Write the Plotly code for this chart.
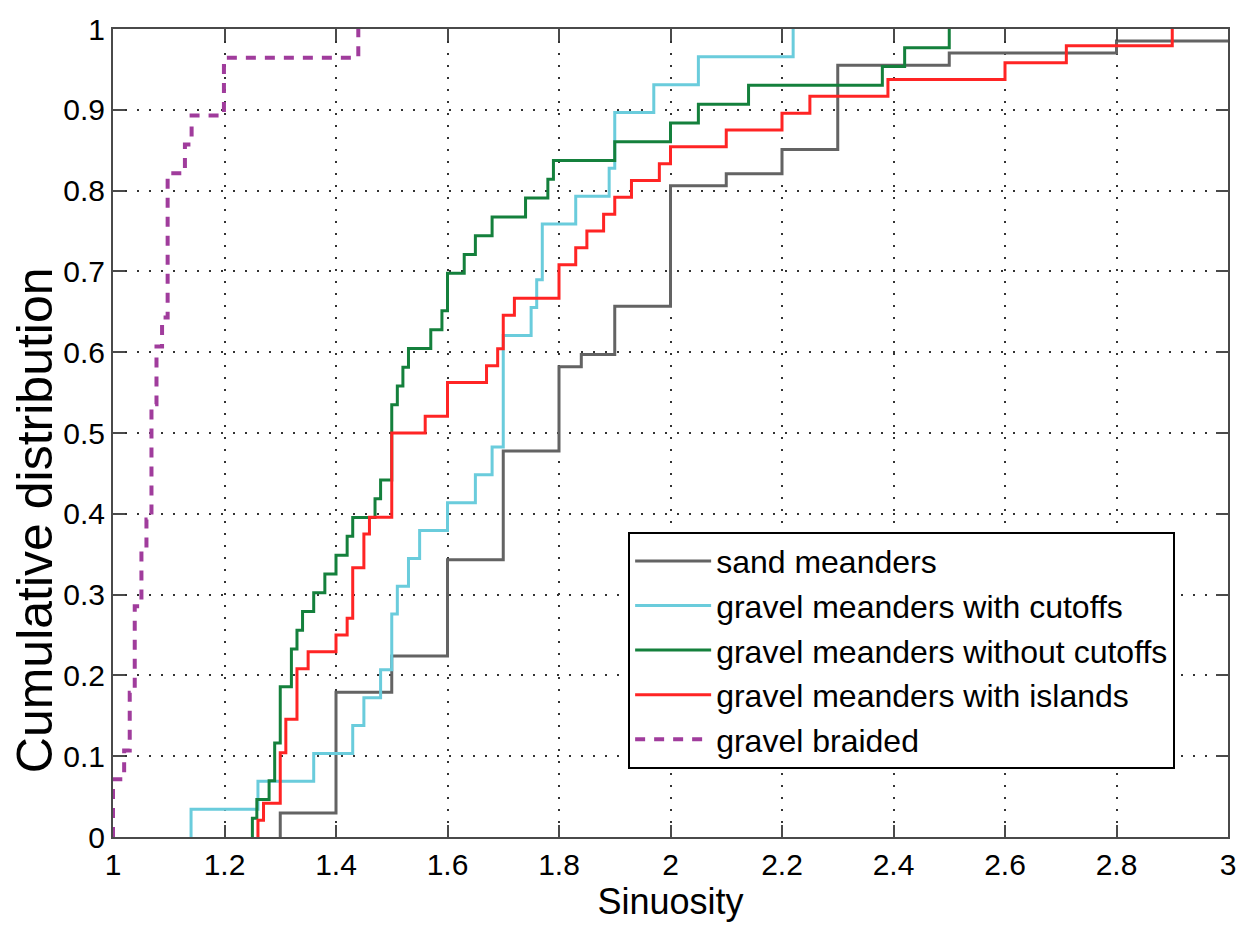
import plotly.graph_objects as go

# ---- data ----
sand_x = [1.3, 1.3, 1.4, 1.5, 1.6, 1.7, 1.8, 1.84, 1.9, 2.0, 2.1, 2.2, 2.3, 2.5, 2.8, 3.0]
sand_n = [0, 2, 12, 15, 23, 32, 39, 40, 44, 54, 55, 57, 64, 65, 66, 66]
sand_total = 67

cut_x = [1.14, 1.14, 1.26, 1.36, 1.43, 1.45, 1.48, 1.50, 1.51, 1.53, 1.55, 1.60, 1.65, 1.68,
         1.70, 1.75, 1.76, 1.77, 1.83, 1.89, 1.90, 1.97, 2.05, 2.22]
cut_n = [0, 1, 2, 3, 4, 5, 6, 8, 9, 10, 11, 12, 13, 14, 18, 19, 20, 22, 23, 24, 26, 27, 28, 29]
cut_total = 29

nocut_x = [1.25, 1.25, 1.258, 1.28, 1.29, 1.30, 1.32, 1.33, 1.34, 1.36, 1.38, 1.40, 1.42, 1.43,
           1.47, 1.48, 1.50, 1.51, 1.52, 1.53, 1.57, 1.59, 1.60, 1.63, 1.65, 1.68, 1.74, 1.78,
           1.79, 1.90, 2.0, 2.05, 2.14, 2.38, 2.42, 2.50]
nocut_n = [0, 1, 2, 3, 5, 8, 10, 11, 12, 13, 14, 15, 16, 17, 18, 19, 23, 24, 25, 26, 27, 28,
           30, 31, 32, 33, 34, 35, 36, 37, 38, 39, 40, 41, 42, 43]
nocut_total = 43

isl_x = [1.26, 1.26, 1.27, 1.30, 1.31, 1.33, 1.35, 1.40, 1.42, 1.43, 1.45, 1.46, 1.50, 1.56,
         1.60, 1.67, 1.69, 1.70, 1.72, 1.80, 1.83, 1.85, 1.88, 1.90, 1.93, 1.98, 2.0, 2.1,
         2.2, 2.25, 2.39, 2.6, 2.71, 2.9]
isl_n = [0, 1, 2, 5, 7, 10, 11, 12, 13, 16, 18, 19, 24, 25, 27, 28, 29, 31, 32, 34, 35, 36,
         37, 38, 39, 40, 41, 42, 43, 44, 45, 46, 47, 48]
isl_total = 48

braid_x = [1.0, 1.0, 1.02, 1.03, 1.039, 1.051, 1.06, 1.069, 1.078, 1.088, 1.098, 1.129,
           1.141, 1.199, 1.44]
braid_n = [0, 2, 3, 5, 8, 10, 11, 15, 17, 18, 23, 24, 25, 27, 28]
braid_total = 28

x_ticks = [1, 1.2, 1.4, 1.6, 1.8, 2, 2.2, 2.4, 2.6, 2.8, 3]
x_tick_labels = ["1", "1.2", "1.4", "1.6", "1.8", "2", "2.2", "2.4", "2.6", "2.8", "3"]
y_ticks = [0, 0.1, 0.2, 0.3, 0.4, 0.5, 0.6, 0.7, 0.8, 0.9, 1]
y_tick_labels = ["0", "0.1", "0.2", "0.3", "0.4", "0.5", "0.6", "0.7", "0.8", "0.9", "1"]

series = [
    ("sand meanders", sand_x, sand_n, sand_total, "#636363", "solid"),
    ("gravel meanders with cutoffs", cut_x, cut_n, cut_total, "#6ACCDC", "solid"),
    ("gravel meanders without cutoffs", nocut_x, nocut_n, nocut_total, "#14803C", "solid"),
    ("gravel meanders with islands", isl_x, isl_n, isl_total, "#FF2424", "solid"),
    ("gravel braided", braid_x, braid_n, braid_total, "#A03C9C", "10px,9px"),
]

FONT = "Liberation Sans, Arial, Helvetica, sans-serif"

fig = go.Figure()
for i, (name, xs, ns, tot, col, dash) in enumerate(series):
    fig.add_trace(go.Scatter(
        x=xs, y=[n / tot for n in ns], mode="lines", name=name,
        line=dict(color=col, width=3 if dash == "solid" else 4, shape="hv", dash=dash),
    ))

axis_common = dict(
    showline=True, linecolor="#4a4a4a", linewidth=2, mirror="ticks",
    ticks="inside", ticklen=12, tickcolor="#4a4a4a", tickwidth=2,
    showgrid=True, gridcolor="#333333", gridwidth=1.5, griddash="2px,10px",
    zeroline=False, tickfont=dict(family=FONT, size=30, color="#000000"),
)

fig.update_xaxes(range=[1, 3], tickvals=x_ticks, ticktext=x_tick_labels,
                 title=dict(text="Sinuosity", font=dict(family=FONT, size=36, color="#000"),
                            standoff=6),
                 **axis_common)
fig.update_yaxes(range=[0, 1], tickvals=y_ticks, ticktext=y_tick_labels, **axis_common)

# y-axis title (placed like the reference, slightly below the axis centre)
fig.add_annotation(
    text="Cumulative distribution", textangle=-90,
    xref="paper", yref="paper", x=-0.07, y=0.392,
    xanchor="center", yanchor="middle", showarrow=False,
    font=dict(family=FONT, size=50, color="#000"),
)

fig.update_layout(
    width=1248, height=926,
    margin=dict(l=113, r=20, t=21, b=89),
    paper_bgcolor="white", plot_bgcolor="white",
    font=dict(family=FONT, color="#000"),
    legend=dict(
        x=0.462, y=0.378, xanchor="left", yanchor="top",
        bgcolor="white", bordercolor="#000000", borderwidth=2,
        font=dict(family=FONT, size=32, color="#000"),
        itemwidth=76,
    ),
    showlegend=True,
)

fig.write_html("out.html")
